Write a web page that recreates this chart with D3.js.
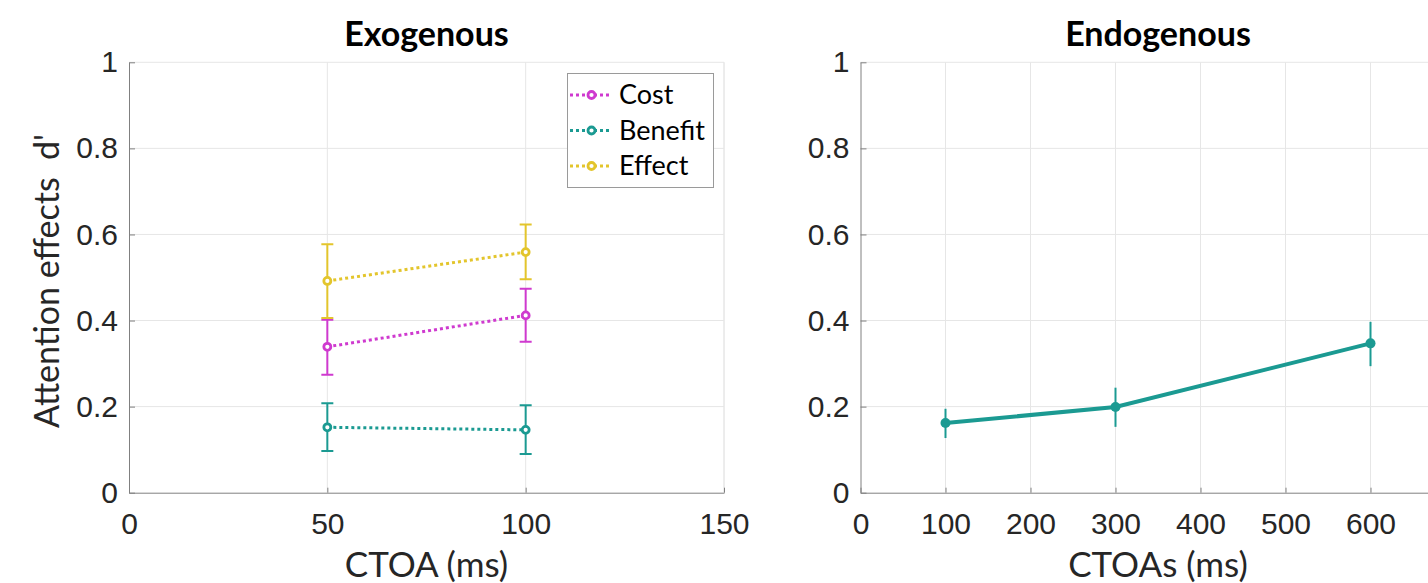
<!DOCTYPE html>
<html>
<head>
<meta charset="utf-8">
<script src="https://cdn.jsdelivr.net/npm/d3@7"></script>
<style>
  body { margin: 0; background: #fff; overflow: hidden; }
  svg { display: block; font-family: Lato, "Open Sans", sans-serif; }
  .tick text { fill: #262626; }
</style>
</head>
<body>
<svg id="fig" width="1428" height="583"></svg>
<script>
// ---- data ----
const exoCTOA = [50, 100]
const costMean = [0.339, 0.412]
const costLo = [0.274, 0.351]
const costHi = [0.402, 0.474]
const benefitMean = [0.152, 0.146]
const benefitLo = [0.097, 0.090]
const benefitHi = [0.208, 0.203]
const effectMean = [0.492, 0.559]
const effectLo = [0.406, 0.496]
const effectHi = [0.577, 0.623]

const endoCTOA = [100, 300, 600]
const endoMean = [0.162, 0.199, 0.347]
const endoLo = [0.127, 0.153, 0.294]
const endoHi = [0.195, 0.244, 0.397]

const yTicks = [0, 0.2, 0.4, 0.6, 0.8, 1]
const exoTicks = [0, 50, 100, 150]
const endoTicks = [0, 100, 200, 300, 400, 500, 600] // 700 sits past the window edge
const seriesNames = ['Cost', 'Benefit', 'Effect']
const seriesColors = ['#cf3acf', '#1b9a92', '#e3c52c']

const exoSeries = [
    {name: seriesNames[0], color: seriesColors[0], mean: costMean, lo: costLo, hi: costHi},
    {name: seriesNames[1], color: seriesColors[1], mean: benefitMean, lo: benefitLo, hi: benefitHi},
    {name: seriesNames[2], color: seriesColors[2], mean: effectMean, lo: effectLo, hi: effectHi}
]

const svg = d3.select('#fig')
const plotTop = 62.3, plotBottom = 492.7
const gridColor = '#e6e6e6', axisColor = '#808080'

const y = d3.scaleLinear().domain([0, 1]).range([plotBottom, plotTop])

function panel(x0, x1, domain, ticks, title, xlabel) {
    const x = d3.scaleLinear().domain(domain).range([x0, x1])
    const g = svg.append('g')

    // grid
    g.append('g').selectAll('line').data(ticks.slice(1).concat([domain[1]]))
        .enter().append('line')
        .attr('x1', d => x(d)).attr('x2', d => x(d))
        .attr('y1', plotTop).attr('y2', plotBottom)
        .attr('stroke', gridColor)
    g.append('g').selectAll('line').data(yTicks.slice(1))
        .enter().append('line')
        .attr('x1', x0).attr('x2', x1)
        .attr('y1', d => y(d)).attr('y2', d => y(d))
        .attr('stroke', gridColor)

    const xAxis = d3.axisBottom(x).tickValues(ticks).tickSizeInner(-5).tickSizeOuter(0).tickPadding(20)
    const yAxis = d3.axisLeft(y).tickValues(yTicks).tickSizeInner(-6).tickSizeOuter(0).tickPadding(11)
        .tickFormat(d3.format('~g'))

    const gx = g.append('g').attr('transform', 'translate(0,' + plotBottom + ')').call(xAxis)
    const gy = g.append('g').attr('transform', 'translate(' + x0 + ',0)').call(yAxis)
    ;[gx, gy].forEach(a => {
        a.select('.domain').attr('stroke', axisColor)
        a.selectAll('.tick line').attr('stroke', axisColor)
        a.selectAll('.tick text').style('font-size', '30px').attr('fill', '#262626')
    })

    svg.append('text')
        .attr('x', (x0 + x1) / 2).attr('y', 46)
        .attr('text-anchor', 'middle')
        .style('font-size', '34px').style('font-weight', 'bold')
        .text(title)

    svg.append('text')
        .attr('x', (x0 + x1) / 2).attr('y', 577)
        .attr('text-anchor', 'middle')
        .style('font-size', '35px').attr('fill', '#262626')
        .text(xlabel)

    return x
}

// ---- left: exogenous ----
const xExo = panel(129, 724, [0, 150], exoTicks, 'Exogenous', 'CTOA (ms)')

svg.append('text')
    .attr('transform', 'translate(59,281) rotate(-90)')
    .attr('text-anchor', 'middle')
    .style('font-size', '34px').style('white-space', 'pre').attr('fill', '#262626')
    .text("Attention effects  d'")

const exoG = svg.append('g')
exoSeries.forEach(s => {
    const pts = exoCTOA.map((c, i) => ({c: c, m: s.mean[i], lo: s.lo[i], hi: s.hi[i]}))
    const sg = exoG.append('g')
    sg.selectAll('.bar').data(pts).enter().append('path')
        .attr('d', d => {
            const cx = xExo(d.c), a = y(d.hi), b = y(d.lo)
            return 'M' + cx + ',' + a + 'V' + b +
                'M' + (cx - 6) + ',' + a + 'H' + (cx + 6) +
                'M' + (cx - 6) + ',' + b + 'H' + (cx + 6)
        })
        .attr('stroke', s.color).attr('stroke-width', 2).attr('fill', 'none')
    sg.append('path')
        .datum(pts)
        .attr('d', d3.line().x(d => xExo(d.c)).y(d => y(d.m)))
        .attr('stroke', s.color).attr('stroke-width', 3)
        .attr('stroke-dasharray', '3,3').attr('fill', 'none')
    sg.selectAll('circle').data(pts).enter().append('circle')
        .attr('cx', d => xExo(d.c)).attr('cy', d => y(d.m)).attr('r', 3.5)
        .attr('fill', '#fff').attr('stroke', s.color).attr('stroke-width', 2.8)
})

// legend
const leg = svg.append('g')
leg.append('rect')
    .attr('x', 567.5).attr('y', 73.5).attr('width', 146).attr('height', 114)
    .attr('fill', '#fff').attr('stroke', '#9a9a9a')
exoSeries.forEach((s, i) => {
    const ly = 95 + i * 35.5
    leg.append('line')
        .attr('x1', 570).attr('x2', 610).attr('y1', ly).attr('y2', ly)
        .attr('stroke', s.color).attr('stroke-width', 3).attr('stroke-dasharray', '3,3')
    leg.append('circle')
        .attr('cx', 591.5).attr('cy', ly).attr('r', 3.5)
        .attr('fill', '#fff').attr('stroke', s.color).attr('stroke-width', 2.8)
    leg.append('text')
        .attr('x', 619).attr('y', ly).attr('dy', '0.35em')
        .style('font-size', '27px').attr('fill', '#000')
        .text(s.name)
})

// ---- right: endogenous ----
const xEndo = panel(860.5, 1455.5, [0, 700], endoTicks, 'Endogenous', 'CTOAs (ms)')
const endoPts = endoCTOA.map((c, i) => ({c: c, m: endoMean[i], lo: endoLo[i], hi: endoHi[i]}))
const endoG = svg.append('g')
endoG.selectAll('.bar').data(endoPts).enter().append('line')
    .attr('x1', d => xEndo(d.c)).attr('x2', d => xEndo(d.c))
    .attr('y1', d => y(d.hi)).attr('y2', d => y(d.lo))
    .attr('stroke', seriesColors[1]).attr('stroke-width', 2)
endoG.append('path')
    .datum(endoPts)
    .attr('d', d3.line().x(d => xEndo(d.c)).y(d => y(d.m)))
    .attr('stroke', seriesColors[1]).attr('stroke-width', 4).attr('fill', 'none')
endoG.selectAll('circle').data(endoPts).enter().append('circle')
    .attr('cx', d => xEndo(d.c)).attr('cy', d => y(d.m)).attr('r', 5)
    .attr('fill', seriesColors[1])
</script>
</body>
</html>
